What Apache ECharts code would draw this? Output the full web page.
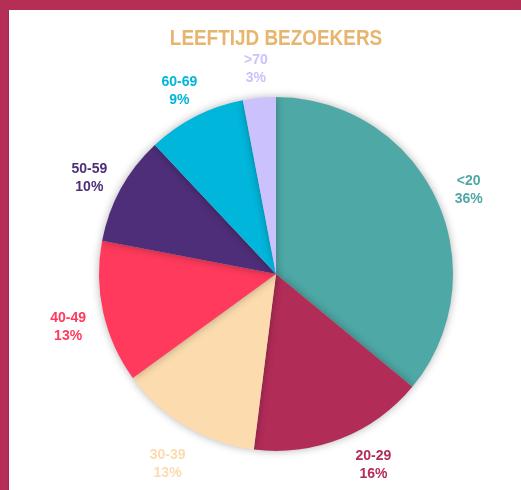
<!DOCTYPE html>
<html>
<head>
<meta charset="utf-8">
<script src="https://cdn.jsdelivr.net/npm/echarts@6/dist/echarts.min.js"></script>
<style>
  html, body { margin: 0; padding: 0; overflow: hidden; background: #b42e56; width: 521px; height: 490px; }
  #chart { position: absolute; left: 9px; top: 10px; width: 534px; height: 480px; background: #fff; box-shadow: 0 1px 2px rgba(0,0,0,0.25); }
</style>
</head>
<body>
<div id="chart"></div>
<script>
// age groups and share of visitors (%)
const ageGroups = ['<20', '20-29', '30-39', '40-49', '50-59', '60-69', '>70'];
const shares = [36, 16, 13, 13, 10, 9, 3];
const sliceColors = ['#4ea8a5', '#b12c57', '#fcdcae', '#ff3a5c', '#4e2e78', '#00b6db', '#cbc1fc'];

const chart = echarts.init(document.getElementById('chart'));

const sliceData = ageGroups.map((name, i) => ({
    name,
    value: shares[i],
    itemStyle: { color: sliceColors[i] }
}));

// transparent ring only used to place the labels around the pie
const labelData = ageGroups.map((name, i) => ({
    name,
    value: shares[i],
    itemStyle: { color: 'rgba(0,0,0,0)' },
    label: { color: sliceColors[i] }
}));
// the 20-29 label sits a bit further round in the original
labelData[1].label.offset = [19, -14];

chart.setOption({
    animation: false,
    graphic: [{
        type: 'text',
        left: 'center',
        top: 18,
        scaleX: 0.86,
        style: {
            text: 'LEEFTIJD BEZOEKERS',
            font: 'bold 22px "Liberation Sans", Arial, sans-serif',
            fill: '#e8b56f'
        }
    }],
    series: [
        {
            type: 'pie',
            center: ['50%', 264],
            radius: 177,
            startAngle: 90,
            clockwise: true,
            label: { show: false },
            labelLine: { show: false },
            itemStyle: { shadowBlur: 8, shadowColor: 'rgba(0,0,0,0.3)' },
            emphasis: { disabled: true },
            data: sliceData
        },
        {
            type: 'pie',
            center: ['50%', 271],
            radius: [190, 230],
            startAngle: 90,
            clockwise: true,
            silent: true,
            label: {
                show: true,
                position: 'inside',
                overflow: 'none',
                fontFamily: '"Liberation Sans", Arial, sans-serif',
                fontWeight: 'bold',
                fontSize: 14,
                lineHeight: 18,
                formatter: p => p.name + '\n' + p.value + '%'
            },
            labelLine: { show: false },
            emphasis: { disabled: true },
            data: labelData
        }
    ]
});
</script>
</body>
</html>
